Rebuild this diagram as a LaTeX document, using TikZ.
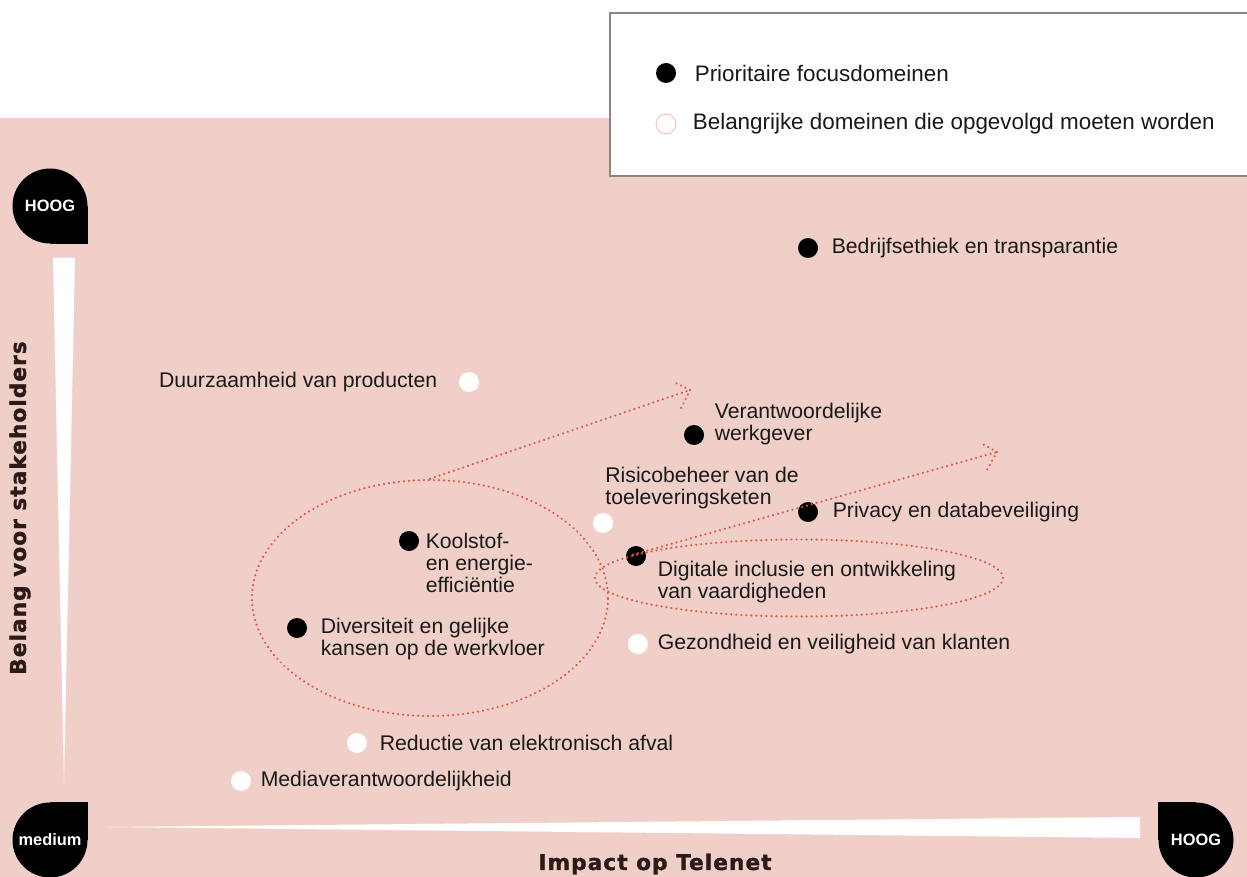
\documentclass[tikz,border=0pt]{standalone}
\usepackage{fontspec}
\setmainfont{Liberation Sans}
\newfontfamily\axisfont[LetterSpace=5, BoldFeatures={FakeBold=1.5}]{DejaVu Sans}
\usetikzlibrary{positioning}
\usetikzlibrary{calc}
\usetikzlibrary{shapes.geometric}
\definecolor{matrix pink}{HTML}{EFCFC7}
\definecolor{ring red}{HTML}{E8553E}
\definecolor{ring pink}{HTML}{F2C4B8}
\definecolor{legend gray}{HTML}{8A8582}
\definecolor{title brown}{HTML}{2B1A17}
\tikzset{
    % Filled marker for a priority focus domain
    focus dot/.style={circle, fill=black, minimum size=10pt, inner sep=0pt},
%
    % Open marker for a domain that is followed up
    watch dot/.style={circle, fill=white, minimum size=10pt, inner sep=0pt},
%
    % Text next to a marker
    domain label/.style={align=left, inner sep=0pt, text=black!90,
        font=\fontsize{10.6}{11}\selectfont},
%
    % Slightly larger text in the key
    key label/.style={domain label, font=\fontsize{11.2}{12}\selectfont},
%
    % Black drop shaped scale badge
    badge/.style={circle, fill=black, minimum size=37.5pt, inner sep=0pt,
        text=white, font=\fontsize{8.2}{9}\selectfont\bfseries},
%
    % Wide bold axis titles
    axis title/.style={inner sep=0pt, text=title brown,
        font=\axisfont\bfseries\fontsize{10.8}{11}\selectfont},
%
    % Red dotted rings and arrows
    ring/.style={draw=ring red, line width=1.2pt, line cap=round,
        dash pattern=on 0.01pt off 2.5pt}}
\pgfdeclarelayer{background}
\pgfdeclarelayer{badge}
\pgfsetlayers{background,badge,main}
\begin{document}
\begin{tikzpicture}[x=0.5pt, y=-0.5pt]
\useasboundingbox (0,0) rectangle (1247,877);

\begin{pgfonlayer}{background}
\fill [matrix pink] (0,118) rectangle (1247,877);
\end{pgfonlayer}

% legend
\node [draw=legend gray, line width=0.8pt, fill=white, anchor=north west,
    minimum width=330pt, minimum height=81.5pt] (legend) at (609,12) {};
\node [focus dot] (key-focus) at (666,73) {};
\node [key label, right=9pt of key-focus] (key-focus-text)
    {Prioritaire focusdomeinen};
\node [watch dot, draw=ring pink, line width=0.5pt] (key-watch) at (666,124) {};
\node [key label, right=8pt of key-watch] (key-watch-text)
    {Belangrijke domeinen die opgevolgd moeten worden};

% scale badges and axes
\node [badge] (stake-high) at (50,206) {HOOG};
\node [badge] (stake-low) at (50,840) {medium};
\node [badge] (impact-high) at (1196,840) {HOOG};
\begin{pgfonlayer}{badge}
\fill (stake-high.center) rectangle (stake-high.east |- stake-high.south);
\fill (stake-low.center) rectangle (stake-low.east |- stake-low.north);
\fill (impact-high.center) rectangle (impact-high.west |- impact-high.north);
\end{pgfonlayer}
\fill [white] (53,258) -- (75,258) -- (64,782) -- cycle;
\fill [white] (107,827) -- (1140,817) -- (1140,838) -- cycle;
\node [axis title, rotate=90] (stake-title) at (20,508)
    {Belang voor stakeholders};
\node [axis title] (impact-title) at (655,864) {Impact op Telenet};

% domains
\node [focus dot] (ethics) at (808,248) {};
\node [domain label, right=6.5pt of ethics] (ethics-text)
    {Bedrijfsethiek en transparantie};

\node [watch dot] (durability) at (469,382) {};
\node [domain label, left=10.5pt of durability] (durability-text)
    {Duurzaamheid van producten};

\node [focus dot] (employer) at (694,435) {};
\node [domain label, right=5pt of employer, yshift=5.5pt] (employer-text)
    {Verantwoordelijke\\werkgever};

\node [watch dot] (supply) at (603,523) {};
\node [domain label, anchor=west] (supply-text) at (605,488)
    {Risicobeheer van de\\toeleveringsketen};

\node [focus dot] (privacy) at (808,512) {};
\node [domain label, right=7pt of privacy] (privacy-text)
    {Privacy en databeveiliging};

\node [focus dot] (carbon) at (409,541) {};
\node [domain label, right=3pt of carbon, yshift=-11pt] (carbon-text)
    {Koolstof-\\en energie-\\efficiëntie};

\node [focus dot] (digital) at (636,556) {};
\node [domain label, right=5.5pt of digital, yshift=-13pt] (digital-text)
    {Digitale inclusie en ontwikkeling\\van vaardigheden};

\node [focus dot] (diversity) at (297,628) {};
\node [domain label, right=6.5pt of diversity, yshift=-5.5pt] (diversity-text)
    {Diversiteit en gelijke\\kansen op de werkvloer};

\node [watch dot] (health) at (638,644) {};
\node [domain label, right=4.5pt of health] (health-text)
    {Gezondheid en veiligheid van klanten};

\node [watch dot] (ewaste) at (357,743) {};
\node [domain label, right=6pt of ewaste] (ewaste-text)
    {Reductie van elektronisch afval};

\node [watch dot] (media) at (241,781) {};
\node [domain label, right=4.5pt of media] (media-text)
    {Mediaverantwoordelijkheid};

% dotted rings with their arrows
\node [ring, ellipse, minimum width=178pt, minimum height=118pt]
    (cluster-ring) at (430,598) {};
\node [ring, ellipse, minimum width=204pt, minimum height=38.5pt]
    (digital-ring) at (799,578) {};

\coordinate (cluster-tip) at (690,390);
\draw [ring] (cluster-ring.north) -- (cluster-tip);
\draw [ring] ($(cluster-tip)!10pt!45:(cluster-ring.north)$) -- (cluster-tip)
    -- ($(cluster-tip)!10pt!-45:(cluster-ring.north)$);

\coordinate (digital-tip) at (997,452);
\draw [ring] (digital-ring.172) -- (digital-tip);
\draw [ring] ($(digital-tip)!10pt!45:(digital-ring.172)$) -- (digital-tip)
    -- ($(digital-tip)!10pt!-45:(digital-ring.172)$);

\end{tikzpicture}
\end{document}
